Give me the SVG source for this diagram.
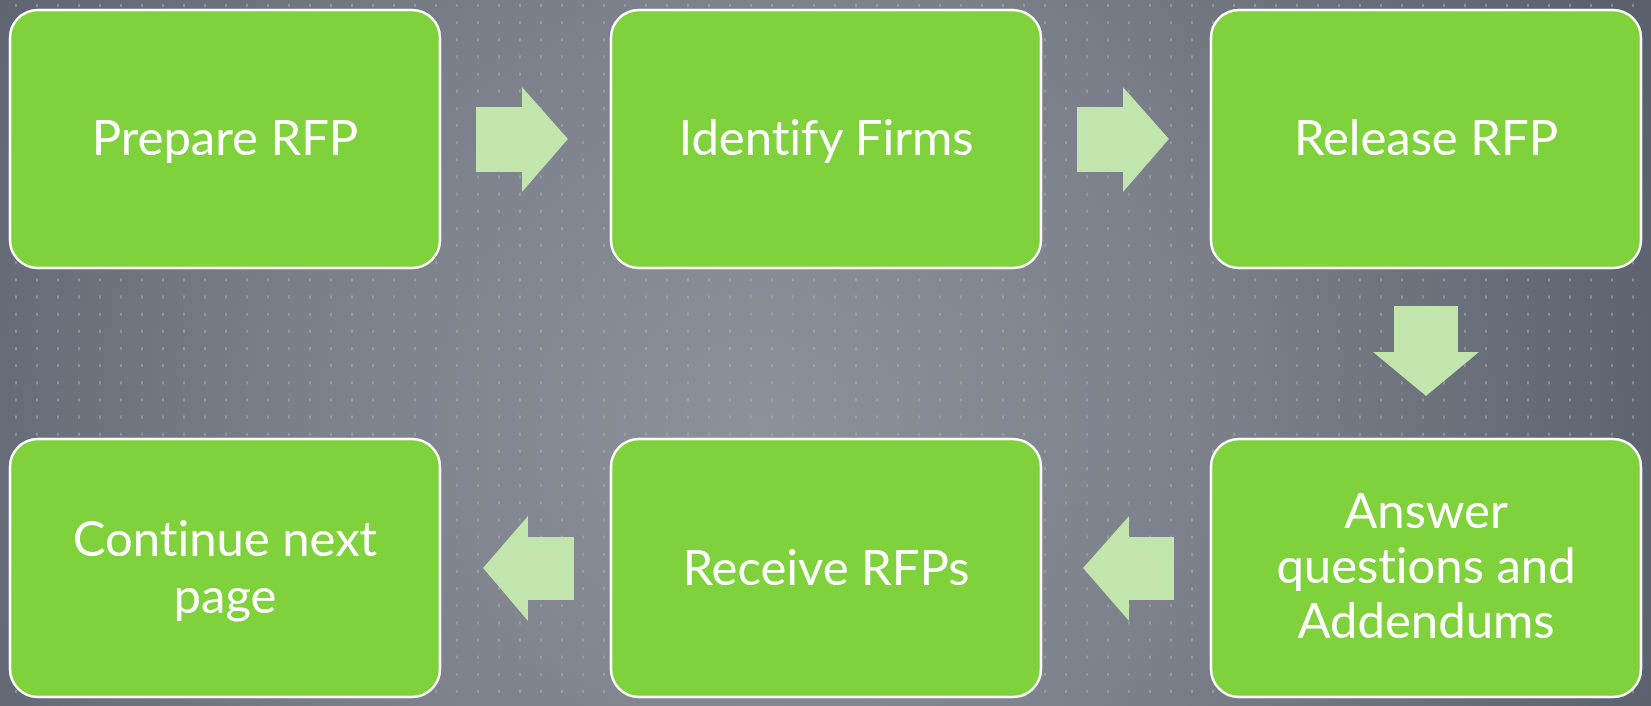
<svg xmlns="http://www.w3.org/2000/svg" width="1651" height="706" viewBox="0 0 1651 706">
<defs>
<radialGradient id="bg" cx="760" cy="430" r="950" gradientUnits="userSpaceOnUse">
<stop offset="0" stop-color="#8c919a"/>
<stop offset="0.5" stop-color="#7a7f89"/>
<stop offset="1" stop-color="#5a606c"/>
</radialGradient>
<pattern id="dots" x="15" y="4" width="21" height="17.15" patternUnits="userSpaceOnUse">
<rect x="0" y="0" width="2" height="3" fill="#a9adb4" opacity="0.55"/>
</pattern>
<style>
.box{fill:#7fd23c;stroke:#ffffff;stroke-width:2.5}
.lbl{fill:#ffffff;font-family:Lato,"Open Sans","Liberation Sans",sans-serif;font-size:49px;text-anchor:middle;font-variant-ligatures:none;font-feature-settings:"liga" 0,"clig" 0}
.arr{fill:#c2e5ad}
</style>
</defs>
<rect width="1651" height="706" fill="url(#bg)"/>
<rect width="1651" height="706" fill="url(#dots)"/>
<g id="connectors">
<polygon class="arr" points="476,107 522,107 522,87 568,139 522,192 522,172 476,172"/>
<polygon class="arr" points="1077,107 1123,107 1123,87 1169,139 1123,192 1123,172 1077,172"/>
<polygon class="arr" points="1394,306 1458,306 1458,352 1479,352 1426,396 1373,352 1394,352"/>
<polygon class="arr" points="1174,537 1129,537 1129,516 1083,568 1129,621 1129,600 1174,600"/>
<polygon class="arr" points="574,537 528,537 528,516 483,568 528,621 528,600 574,600"/>
</g>
<g id="node-prepare">
<rect class="box" x="10" y="10" width="430" height="258" rx="28"/>
<text class="lbl" x="225" y="155">Prepare RFP</text>
</g>
<g id="node-identify">
<rect class="box" x="611" y="10" width="430" height="258" rx="28"/>
<text class="lbl" x="826" y="155">Identify Firms</text>
</g>
<g id="node-release">
<rect class="box" x="1211" y="10" width="430" height="258" rx="28"/>
<text class="lbl" x="1426" y="155">Release RFP</text>
</g>
<g id="node-answer">
<rect class="box" x="1211" y="439" width="430" height="258" rx="28"/>
<text class="lbl" x="1426" y="528">Answer</text>
<text class="lbl" x="1426" y="583">questions and</text>
<text class="lbl" x="1426" y="638">Addendums</text>
</g>
<g id="node-receive">
<rect class="box" x="611" y="439" width="430" height="258" rx="28"/>
<text class="lbl" x="826" y="585">Receive RFPs</text>
</g>
<g id="node-continue">
<rect class="box" x="10" y="439" width="430" height="258" rx="28"/>
<text class="lbl" x="225" y="556">Continue next</text>
<text class="lbl" x="225" y="613">page</text>
</g>
</svg>
